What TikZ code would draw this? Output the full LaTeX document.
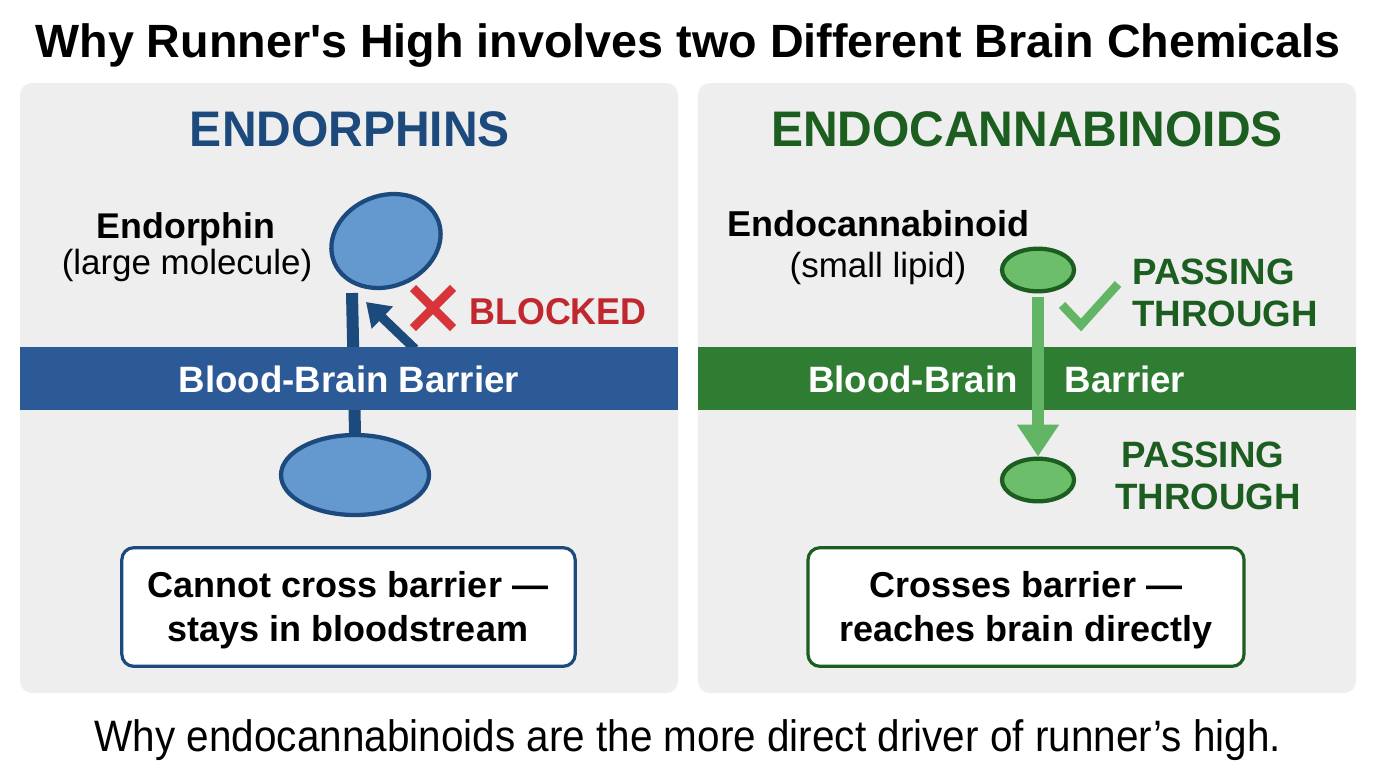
\documentclass[tikz,border=0pt]{standalone}
\usepackage{fontspec}
\setmainfont{Liberation Sans}
\newfontfamily\condf[FakeStretch=0.96]{Liberation Sans}
\newfontfamily\footf[FakeStretch=0.92]{Liberation Sans}
\newfontfamily\titlef{Liberation Sans}
\usetikzlibrary{shapes.geometric,arrows.meta}
\definecolor{panelbg}{HTML}{EEEEEE}
\definecolor{bandblue}{HTML}{2C5A97}
\definecolor{navy}{HTML}{1C4A7C}
\definecolor{molblue}{HTML}{6499D0}
\definecolor{bandgreen}{HTML}{2E7D32}
\definecolor{dkgreen}{HTML}{1B5E20}
\definecolor{molgreen}{HTML}{6DBE6A}
\definecolor{ltgreen}{HTML}{62B565}
\definecolor{xred}{HTML}{D7353A}
\definecolor{txtred}{HTML}{C0282D}
\newcommand{\fs}[1]{\fontsize{#1}{#1}\selectfont}
\tikzset{
  panel/.style={fill=panelbg, rounded corners=9pt, draw=none},
  txt/.style={anchor=base, inner sep=0pt, text=black},
  boxed/.style={draw, line width=2.4pt, fill=white, rounded corners=9pt, minimum width=340pt, minimum height=89pt, inner sep=0pt, align=center},
  mol/.style={ellipse, line width=3.2pt, inner sep=0pt},
}
\begin{document}
\begin{tikzpicture}[x=0.75pt,y=-0.75pt]
\useasboundingbox (0,0) rectangle (1376,768);
\fill[white] (0,0) rectangle (1376,768);
% title
\node[txt] (title) at (688,57) {\titlef\fs{35}\bfseries Why Runner's High involves two Different Brain Chemicals};
% panels
\fill[panel] (20,83) rectangle (678,693);
\fill[panel] (698,83) rectangle (1356,693);
\node[txt, text=navy] (h1) at (350,146) {\condf\fs{37.5}\bfseries ENDORPHINS};
\node[txt, text=dkgreen] (h2) at (1027,146) {\condf\fs{37.5}\bfseries ENDOCANNABINOIDS};
% ---------- left panel ----------
\node[txt] (endo) at (186,238) {\fs{26.8}\bfseries Endorphin};
\node[txt] (endosub) at (187,274) {\fs{26.2}(large molecule)};
\node[mol, draw=navy, fill=molblue, minimum width=84pt, minimum height=68pt, rotate=22] (m1) at (386,241) {};
\node[mol, draw=navy, fill=molblue, minimum width=111pt, minimum height=60pt] (m2) at (355,475) {};
\coordinate (ltop) at (352,293);
\draw[navy, line width=9pt] (ltop) -- (m2.north);
\coordinate (atail) at (415,349);
\coordinate (atip) at (366,302);
\draw[navy, line width=7pt, -{Triangle[length=17pt,width=22pt]}] (atail) -- (atip);
\fill[bandblue] (20,347) rectangle (678,410);
\node[txt, text=white] (bbb1) at (349,392) {\fs{27.5}\bfseries Blood-Brain Barrier};
% red X
\coordinate (xa) at (413,288); \coordinate (xb) at (453,328);
\coordinate (xc) at (453,288); \coordinate (xd) at (413,328);
\draw[xred, line width=6.5pt] (xa) -- (xb) (xc) -- (xd);
\node[txt, text=txtred] (blk) at (558,324) {\condf\fs{28}\bfseries BLOCKED};
\node[boxed, draw=navy] (b1) at (348.5,607) {};
\node[txt] (b1a) at (348,597) {\fs{27}\bfseries Cannot cross barrier —};
\node[txt] (b1b) at (348,641) {\fs{27}\bfseries stays in bloodstream};
% ---------- right panel ----------
\node[txt] (canb) at (878,236) {\fs{27}\bfseries Endocannabinoid};
\node[txt] (canbsub) at (878,277) {\fs{26.2}(small lipid)};
\fill[bandgreen] (698,347) rectangle (1356,410);
\node[txt, text=white] (bbg1) at (913,392) {\fs{27.5}\bfseries Blood-Brain};
\node[txt, text=white] (bbg2) at (1125,392) {\fs{27.5}\bfseries Barrier};
\node[mol, draw=dkgreen, fill=molgreen, minimum width=54pt, minimum height=32pt] (m3) at (1038,270) {};
\node[mol, draw=dkgreen, fill=molgreen, minimum width=54pt, minimum height=32pt] (m4) at (1038,480) {};
\draw[ltgreen, line width=9pt, -{Triangle[length=24pt,width=30pt]}] (m3.south) ++(0,4) -- (m4.north);
\coordinate (c1) at (1062,305); \coordinate (c2) at (1081,325); \coordinate (c3) at (1118,284);
\draw[ltgreen, line width=6.5pt] (c1) -- (c2) -- (c3);
\node[txt, text=dkgreen, anchor=base west] (p1) at (1132,284) {\fs{27.5}\bfseries PASSING};
\node[txt, text=dkgreen, anchor=base west] (p2) at (1132,326) {\fs{27.5}\bfseries THROUGH};
\node[txt, text=dkgreen] (p3) at (1203,467) {\fs{27.5}\bfseries PASSING};
\node[txt, text=dkgreen] (p4) at (1208,509) {\fs{27.5}\bfseries THROUGH};
\node[boxed, draw=dkgreen, minimum width=327pt] (b2) at (1026,607) {};
\node[txt] (b2a) at (1026,597) {\fs{27}\bfseries Crosses barrier —};
\node[txt] (b2b) at (1026,641) {\fs{27}\bfseries reaches brain directly};
% footer
\node[txt] (foot) at (688,751) {\footf\fs{33}Why endocannabinoids are the more direct driver of runner’s high.};
\end{tikzpicture}
\end{document}
